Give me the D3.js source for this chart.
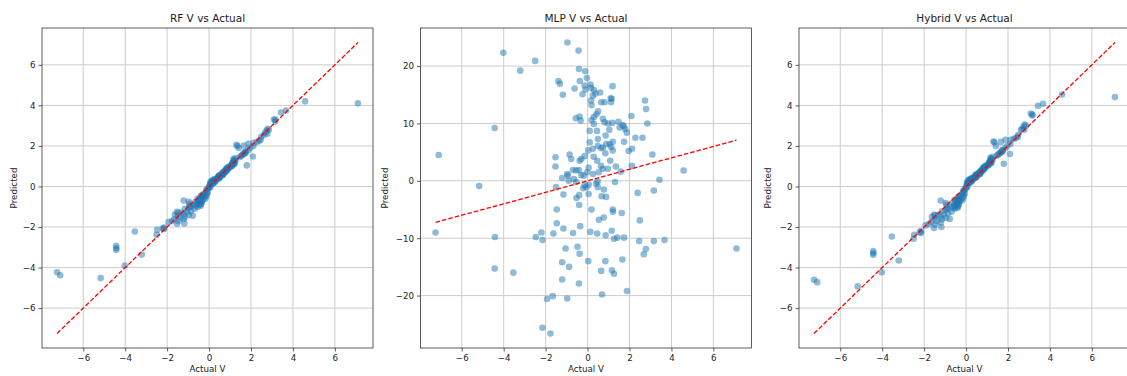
<!DOCTYPE html>
<html>
<head>
<meta charset="utf-8">
<script src="https://cdn.jsdelivr.net/npm/d3@7"></script>
<style>
  body { margin: 0; background: #fff; }
  text { font-family: "DejaVu Sans", sans-serif; }
</style>
</head>
<body>
<svg id="chart" width="1127" height="376"></svg>
<script>
// values
var actualV = [
  -7.25, -7.10, -5.17, -4.43, -4.42, -4.43, -4.02, -3.54, -3.21, -2.50,
  -2.47, -2.20, -2.15, -2.15, -1.93, -1.77, -1.66, -1.63, -1.53, -1.53,
  -1.50, -1.47, -1.47, -1.39, -1.32, -1.18, -1.21, -1.15, -1.15, -1.21,
  -1.21, -1.05, -0.96, -0.97, -0.97, -0.88, -0.86, -0.94, -0.90, -0.78,
  -0.70, -0.69, -0.65, -0.62, -0.56, -0.54, -0.54, -0.53, -0.48, -0.43,
  -0.41, -0.41, -0.38, -0.37, -0.33, -0.38, -0.30, -0.30, -0.40, -0.40,
  -0.35, -0.38, -0.41, -0.24, -0.21, -0.18, -0.14, -0.14, -0.14, -0.11,
  -0.10, -0.03, -0.06, 0.03, 0.05, 0.06, 0.05, 0.03, -0.02, 0.10,
  0.10, 0.13, 0.14, 0.16, 0.19, 0.16, 0.19, 0.19, 0.26, 0.30,
  0.29, 0.25, 0.30, 0.25, 0.38, 0.42, 0.50, 0.30, 0.46, 0.45,
  0.48, 0.41, 0.49, 0.53, 0.46, 0.49, 0.49, 0.54, 0.60, 0.65,
  0.64, 0.64, 0.67, 0.65, 0.69, 0.73, 0.73, 0.73, 0.81, 0.78,
  0.77, 0.81, 0.85, 0.86, 0.86, 0.85, 0.88, 0.89, 0.97, 0.97,
  1.04, 1.05, 1.08, 1.10, 1.12, 1.12, 1.15, 1.18, 1.15, 1.20,
  1.21, 1.19, 1.20, 1.16, 1.26, 1.26, 1.20, 1.35, 1.31, 1.42,
  1.47, 1.53, 1.58, 1.63, 1.66, 1.67, 1.74, 1.74, 1.73, 1.80,
  1.87, 1.88, 1.96, 2.09, 2.12, 2.11, 2.28, 2.39, 2.46, 2.49,
  2.62, 2.68, 2.74, 2.78, 2.79, 2.85, 3.09, 3.16, 3.16, 3.43,
  3.67, 4.58, 7.10
];

var rfPred = [
  -4.23, -4.38, -4.52, -2.93, -3.05, -3.12, -3.90, -2.22, -3.36, -2.38,
  -2.14, -2.06, -2.10, -2.02, -1.76, -1.70, -1.62, -1.38, -1.84, -1.25,
  -1.45, -1.70, -1.30, -1.55, -1.28, -1.82, -1.35, -1.50, -1.10, -1.60,
  -0.69, -1.25, -1.40, -0.75, -1.05, -0.95, -1.20, -0.85, -1.00, -1.45,
  -0.90, -1.10, -0.75, -0.95, -0.80, -1.00, -0.60, -0.85, -0.70, -0.90,
  -0.55, -0.75, -0.60, -0.85, -0.50, -0.70, -0.65, -0.40, -0.95, -0.62,
  -0.78, -0.45, -0.68, -0.55, -0.35, -0.60, -0.30, -0.48, -0.20, -0.40,
  -0.15, -0.10, -0.30, 0.05, 0.10, -0.05, 0.18, 0.00, -0.05, 0.15,
  0.25, 0.12, 0.20, 0.18, 0.28, 0.30, 0.22, 0.15, 0.30, 0.25,
  0.35, 0.20, 0.32, 0.35, 0.40, 0.38, 0.48, 0.28, 0.40, 0.45,
  0.52, 0.45, 0.42, 0.55, 0.50, 0.46, 0.55, 0.50, 0.62, 0.58,
  0.66, 0.60, 0.70, 0.55, 0.65, 0.70, 0.75, 0.66, 0.78, 0.80,
  0.72, 0.85, 0.82, 0.90, 0.80, 0.88, 0.85, 0.95, 0.92, 1.00,
  0.98, 1.05, 1.00, 1.12, 1.08, 1.15, 1.10, 1.20, 1.18, 1.25,
  1.15, 1.30, 1.22, 1.35, 1.28, 1.40, 1.10, 2.00, 2.05, 1.90,
  1.45, 1.50, 1.55, 1.60, 2.02, 1.62, 1.70, 1.65, 1.72, 1.04,
  1.80, 2.10, 1.90, 1.48, 2.15, 2.00, 2.20, 2.25, 2.30, 2.45,
  2.55, 2.65, 2.75, 2.60, 2.85, 2.80, 3.30, 3.20, 3.30, 3.65,
  3.75, 4.20, 4.10
];

var mlpPred = [
  -9.0, 4.5, -0.9, 9.2, -9.8, -15.3, 22.3, -16.0, 19.2, 20.9,
  -9.8, -9.0, -10.3, -25.6, -20.6, -26.6, -20.1, -9.2, 4.1, 2.5,
  -1.1, -5.0, -7.4, 17.4, 16.9, 15.0, 0.5, -2.4, -8.3, -14.2,
  -17.2, -11.8, 24.1, 1.2, -20.5, -15.0, 4.6, 0.9, 0.0, 3.8,
  1.9, -9.1, 0.3, 16.1, 10.9, 1.8, -0.2, -3.0, -11.5, 22.7,
  19.5, 1.9, 11.2, 17.4, 10.5, 3.5, 3.8, 1.0, -2.5, -4.2,
  -7.9, -12.7, -17.9, 15.1, -1.3, 0.9, 4.3, 16.6, -0.8, 19.1,
  15.9, 17.9, -1.1, 5.3, 2.3, -0.7, -2.3, -14.0, 1.5, 8.7,
  6.7, -8.9, 16.8, 14.0, 13.2, 16.2, 10.6, -5.0, 1.2, 9.9,
  4.2, 5.6, 15.8, 14.8, 15.2, 11.6, 12.1, 11.1, -9.2, 8.7,
  -0.1, -0.5, -1.1, 1.5, 3.5, 7.3, 6.1, -6.8, 15.4, 13.7,
  2.6, 5.7, -2.7, -15.7, -19.8, 10.8, 2.1, 5.8, 13.7, -1.5,
  -6.4, 10.2, 4.8, 7.9, -9.5, -14.0, -2.8, 6.4, 10.0, 2.1,
  8.9, 6.4, 3.5, 14.4, 5.9, 13.7, 14.3, 10.1, -8.7, -5.0,
  -5.4, 16.5, 6.8, -15.6, -16.2, -10.1, 5.3, 2.5, -0.2, -9.9,
  10.3, 9.3, 1.6, -5.6, -13.7, 9.7, 6.8, -9.9, 9.5, 9.0,
  8.4, -19.2, 5.2, 11.3, 5.6, 2.6, 7.5, -2.1, -10.5, -6.9,
  7.5, -12.8, 14.0, -11.9, 12.5, 10.0, 4.6, -10.5, -1.7, 0.2,
  -10.3, 1.8, -11.8
];

var hybridPred = [
  -4.60, -4.72, -4.93, -3.19, -3.29, -3.37, -4.23, -2.47, -3.65, -2.58,
  -2.38, -2.25, -2.30, -2.20, -1.92, -1.85, -1.75, -1.50, -2.05, -1.40,
  -1.58, -1.88, -1.42, -1.70, -1.40, -2.00, -1.48, -1.62, -1.22, -1.78,
  -0.69, -1.38, -1.55, -0.82, -1.15, -1.05, -1.32, -0.90, -1.10, -1.60,
  -1.00, -1.25, -0.82, -1.05, -0.90, -1.10, -0.66, -0.95, -0.78, -1.00,
  -0.62, -0.85, -0.68, -0.95, -0.56, -0.78, -0.74, -0.46, -1.05, -0.70,
  -0.88, -0.52, -0.76, -0.62, -0.40, -0.68, -0.34, -0.55, -0.24, -0.46,
  -0.18, -0.12, -0.35, 0.08, 0.14, -0.04, 0.22, 0.02, -0.06, 0.20,
  0.30, 0.16, 0.24, 0.22, 0.32, 0.35, 0.26, 0.20, 0.34, 0.30,
  0.40, 0.25, 0.36, 0.40, 0.44, 0.42, 0.52, 0.33, 0.45, 0.50,
  0.56, 0.50, 0.46, 0.60, 0.55, 0.50, 0.60, 0.55, 0.66, 0.62,
  0.70, 0.65, 0.74, 0.60, 0.70, 0.75, 0.80, 0.71, 0.83, 0.85,
  0.77, 0.90, 0.87, 0.95, 0.86, 0.93, 0.90, 1.00, 0.98, 1.05,
  1.04, 1.10, 1.06, 1.18, 1.14, 1.20, 1.16, 1.26, 1.24, 1.30,
  1.22, 1.36, 1.28, 1.42, 1.34, 1.46, 1.15, 2.18, 2.22, 2.00,
  1.52, 1.58, 1.62, 1.66, 2.20, 1.70, 1.78, 1.72, 1.80, 1.12,
  1.90, 2.30, 2.00, 1.60, 2.30, 2.10, 2.35, 2.40, 2.45, 2.55,
  2.80, 2.85, 2.95, 2.80, 3.05, 3.00, 3.60, 3.50, 3.55, 3.98,
  4.08, 4.54, 4.41
];

var titles = ['RF V vs Actual', 'MLP V vs Actual', 'Hybrid V vs Actual'];
var xTicks = [-6, -4, -2, 0, 2, 4, 6];
var vTicks = [-6, -4, -2, 0, 2, 4, 6];
var mlpTicks = [-20, -10, 0, 10, 20];

var svg = d3.select('#chart');
var plotW = 331, plotH = 320, plotTop = 28;
var gridColor = '#cccccc';

var panels = [
  { title: titles[0], pred: rfPred, ticks: vTicks, left: 42, labelX: -25 },
  { title: titles[1], pred: mlpPred, ticks: mlpTicks, left: 420.5, labelX: -33 },
  { title: titles[2], pred: hybridPred, ticks: vTicks, left: 799, labelX: -28 }
];

// matplotlib style 5% margins
function padded(ext) {
  var m = (ext[1] - ext[0]) * 0.05;
  return [ext[0] - m, ext[1] + m];
}

var actExt = d3.extent(actualV);
var fmt = d3.format('d');

panels.forEach(function(p) {
  var g = svg.append('g')
    .attr('transform', 'translate(' + p.left + ',' + plotTop + ')');

  var x = d3.scaleLinear().domain(padded(actExt)).range([0, plotW]);
  var yExt = d3.extent(p.pred.concat(actExt));
  var y = d3.scaleLinear().domain(padded(yExt)).range([plotH, 0]);

  // grid
  g.append('g').selectAll('line').data(xTicks).enter().append('line')
    .attr('x1', x).attr('x2', x)
    .attr('y1', 0).attr('y2', plotH)
    .style('stroke', gridColor).style('stroke-width', 1);
  g.append('g').selectAll('line').data(p.ticks).enter().append('line')
    .attr('x1', 0).attr('x2', plotW)
    .attr('y1', y).attr('y2', y)
    .style('stroke', gridColor).style('stroke-width', 1);

  // points
  g.append('g').selectAll('circle').data(actualV).enter().append('circle')
    .attr('cx', function(d) { return x(d); })
    .attr('cy', function(d, i) { return y(p.pred[i]); })
    .attr('r', 3.3)
    .style('fill', '#1f77b4')
    .style('fill-opacity', 0.5);

  // ideal line
  g.append('line')
    .attr('x1', x(actExt[0])).attr('y1', y(actExt[0]))
    .attr('x2', x(actExt[1])).attr('y2', y(actExt[1]))
    .style('stroke', 'red')
    .style('stroke-width', 1.3)
    .style('stroke-dasharray', '4.6,2');

  // axes
  var xAxis = g.append('g')
    .attr('transform', 'translate(0,' + plotH + ')')
    .call(d3.axisBottom(x).tickValues(xTicks).tickSize(3.5).tickPadding(3).tickFormat(fmt));
  var yAxis = g.append('g')
    .call(d3.axisLeft(y).tickValues(p.ticks).tickSize(3.5).tickPadding(3).tickFormat(fmt));
  [xAxis, yAxis].forEach(function(a) {
    a.select('.domain').remove();
    a.selectAll('line').style('stroke', '#333').style('stroke-width', 0.8);
    a.selectAll('text')
      .style('font-family', '"DejaVu Sans", sans-serif')
      .style('font-size', '8.7px')
      .style('fill', '#222');
  });

  // frame
  g.append('rect')
    .attr('width', plotW).attr('height', plotH)
    .style('fill', 'none')
    .style('stroke', '#333')
    .style('stroke-width', 0.8);

  // labels
  g.append('text')
    .attr('x', plotW / 2).attr('y', -6)
    .attr('text-anchor', 'middle')
    .style('font-size', '10.5px')
    .style('fill', '#222')
    .text(p.title);
  g.append('text')
    .attr('x', plotW / 2).attr('y', plotH + 24)
    .attr('text-anchor', 'middle')
    .style('font-size', '8.7px')
    .style('fill', '#222')
    .text('Actual V');
  g.append('text')
    .attr('transform', 'translate(' + p.labelX + ',' + (plotH / 2) + ') rotate(-90)')
    .attr('text-anchor', 'middle')
    .style('font-size', '8.7px')
    .style('fill', '#222')
    .text('Predicted');
});
</script>
</body>
</html>
